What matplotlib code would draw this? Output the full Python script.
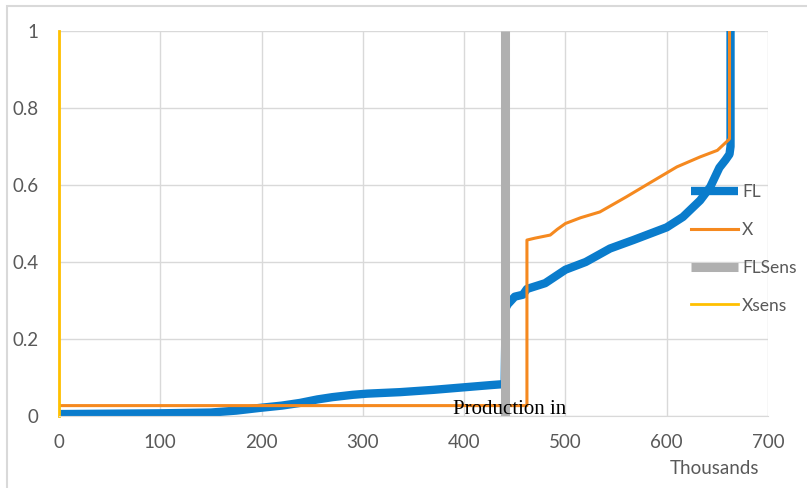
import matplotlib
matplotlib.use("Agg")
import matplotlib.pyplot as plt
from matplotlib.patches import Rectangle

# courbes (x en milliers)
fl_x = [0, 50, 100, 150, 175, 198, 220, 238, 255, 270, 290, 304, 337, 370, 402, 425, 440,
        441, 443, 450, 458, 462, 480, 500, 520, 544, 567, 600, 616, 633, 643, 652, 658, 662, 663, 663]
fl_y = [0.005, 0.006, 0.007, 0.009, 0.014, 0.021, 0.027, 0.034, 0.043, 0.049, 0.055, 0.058, 0.062,
        0.068, 0.075, 0.08, 0.083,
        0.28, 0.29, 0.31, 0.315, 0.33, 0.345, 0.38, 0.40, 0.435, 0.457, 0.49, 0.517, 0.56, 0.595,
        0.645, 0.665, 0.68, 0.70, 1.0]

x_x = [0, 462, 462, 470, 485, 492, 500, 515, 534, 560, 583, 610, 633, 650, 661, 662, 662]
x_y = [0.027, 0.027, 0.457, 0.462, 0.47, 0.485, 0.50, 0.515, 0.53, 0.569, 0.605, 0.647, 0.673,
       0.69, 0.717, 0.72, 1.0]

flsens_x = [440, 440]
flsens_y = [0, 1]

xsens_x = [0, 0]
xsens_y = [0, 1]

xticks = [0, 100, 200, 300, 400, 500, 600, 700]
yticks = [0, 0.2, 0.4, 0.6, 0.8, 1]
ytick_labels = ["0", "0.2", "0.4", "0.6", "0.8", "1"]

plt.rcParams['font.family'] = ['Lato', 'DejaVu Sans']

fig = plt.figure(figsize=(8.07, 4.88), dpi=100)
ax = fig.add_axes([59 / 807, 72 / 488, 709 / 807, 385 / 488])

ax.plot(fl_x, fl_y, color="#0a7ccc", lw=6, solid_capstyle="butt", label="FL")
ax.plot(x_x, x_y, color="#f5891f", lw=2.2, label="X")
ax.plot(flsens_x, flsens_y, color="#b0b0b0", lw=6.5, solid_capstyle="butt", label="FLSens")
ax.plot(xsens_x, xsens_y, color="#ffc000", lw=2, label="Xsens", clip_on=False)

ax.set_xlim(0, 700)
ax.set_ylim(0, 1)
ax.set_xticks(xticks)
ax.set_yticks(yticks)
ax.set_yticklabels(ytick_labels)
ax.grid(True, color="#d9d9d9", lw=1)
ax.set_axisbelow(True)
for s in ["top", "right", "left"]:
    ax.spines[s].set_visible(False)
ax.spines["bottom"].set_color("#d9d9d9")
ax.tick_params(length=0, labelsize=13.5, labelcolor="#595959")
ax.tick_params(axis="x", pad=13)
ax.tick_params(axis="y", pad=15)

fig.text(715 / 807, 1 - 469 / 488, "Thousands", ha="center", va="center",
         fontsize=13.5, color="#595959")
fig.text(453 / 807, 1 - 410 / 488, "Production in", ha="left", va="center",
         fontsize=15, family="Liberation Serif", color="black")

leg = ax.legend(loc="center left", bbox_to_anchor=(625 / 709, 1 - (249 - 31) / 385), frameon=False,
                fontsize=12.5, labelcolor="#595959", handlelength=2.7, handletextpad=0.25,
                labelspacing=1.25, borderaxespad=0)

fig.patches.append(Rectangle((7 / 807, -0.05), 1.0, 1.05 - 6 / 488, transform=fig.transFigure,
                             fill=False, edgecolor="#d9d9d9", lw=1.5))

fig.savefig("out.png", dpi=100)
